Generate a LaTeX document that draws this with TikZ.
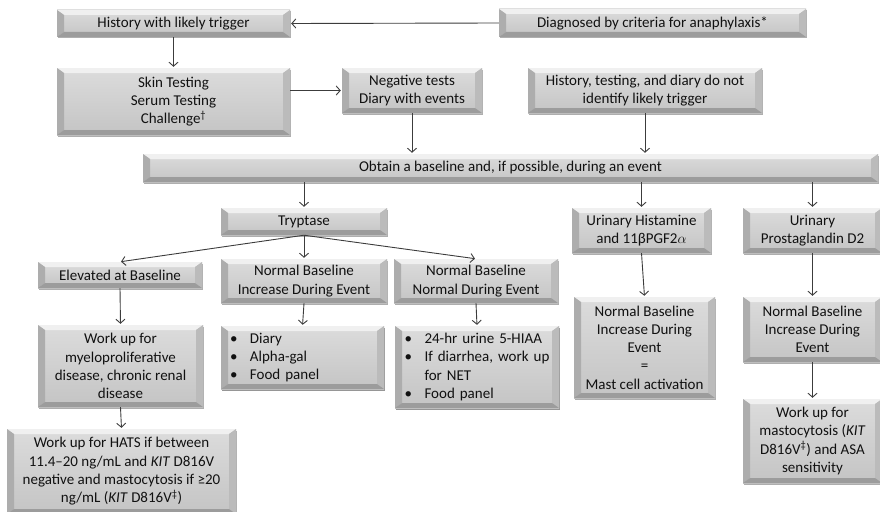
\documentclass[tikz,border=0pt]{standalone}
\usepackage{fontspec}
\setmainfont{Carlito}
\usetikzlibrary{arrows.meta,shadows}
\definecolor{facetop}{HTML}{DCDCDC}
\definecolor{facebot}{HTML}{C4C4C4}
\definecolor{bevT}{HTML}{F0F0F0}
\definecolor{bevL}{HTML}{ADADAD}
\definecolor{bevR}{HTML}{BBBBBB}
\definecolor{bevB}{HTML}{9C9C9C}
\definecolor{shadowc}{HTML}{8C8C8C}
\definecolor{txt}{HTML}{111111}
\definecolor{linec}{HTML}{3C3C3C}
\tikzset{
  bev/.style={top color=facetop, bottom color=facebot, align=center, inner sep=3pt,
    font=\fontsize{15}{18.3}\selectfont, text=txt,
    drop shadow={shadow xshift=1pt, shadow yshift=-1.5pt, fill=shadowc, opacity=0.7},
    path picture={
      \path (path picture bounding box.north west) coordinate (pnw)
            (path picture bounding box.north east) coordinate (pne)
            (path picture bounding box.south west) coordinate (psw)
            (path picture bounding box.south east) coordinate (pse);
      \fill[bevT] (pnw) -- (pne) -- ([shift={(-7pt,-5pt)}]pne) -- ([shift={(7pt,-5pt)}]pnw) -- cycle;
      \fill[bevL] (pnw) -- ([shift={(7pt,-5pt)}]pnw) -- ([shift={(7pt,5pt)}]psw) -- (psw) -- cycle;
      \fill[bevR] (pne) -- ([shift={(-7pt,-5pt)}]pne) -- ([shift={(-7pt,5pt)}]pse) -- (pse) -- cycle;
      \fill[bevB] (psw) -- ([shift={(7pt,5pt)}]psw) -- ([shift={(-7pt,5pt)}]pse) -- (pse) -- cycle;
    }},
  lst/.style={bev, align=left, inner xsep=9pt},
  arr/.style={draw=linec, line width=0.9pt, -{Straight Barb[length=4pt,width=9pt]}, shorten >=1pt},
}
\newcommand{\bx}[7][]{\node[bev,#1, minimum width={(#5-#3)*1pt}, minimum height={(#6-#4)*1pt}] (#2) at ({(#3+#5)/2},{(#4+#6)/2}) {#7};}
\newcommand{\bl}{\makebox[20pt][l]{\textbullet}}
\begin{document}
\begin{tikzpicture}[x=1pt,y=-1pt]
\useasboundingbox (0,0) rectangle (880,511);
\bx{hist}{57}{10}{290}{37}{History with likely trigger}
\bx{diag}{499}{9}{806}{37}{Diagnosed by criteria for anaphylaxis*}
\bx{skin}{57}{68}{290}{135}{Skin Testing\\Serum Testing\\Challenge\textsuperscript{†}}
\bx{neg}{342}{68}{482}{113}{Negative tests\\Diary with events}
\bx{htd}{528}{68}{762}{113}{History, testing, and diary do not\\identify likely trigger}
\bx{base}{143}{154}{878}{182}{Obtain a baseline and, if possible, during an event}
\bx{tryp}{221}{208}{387}{235}{Tryptase}
\bx{uhist}{572}{208}{711}{253}{Urinary Histamine\\and 11βPGF2$\alpha$}
\bx{upros}{743}{208}{882}{253}{Urinary\\Prostaglandin D2}
\bx{elev}{38}{262}{202}{288}{Elevated at Baseline}
\bx{nbi}{221}{259}{387}{303}{Normal Baseline\\Increase During Event}
\bx{nbn}{394}{259}{558}{303}{Normal Baseline\\Normal During Event}
\bx{work}{38}{325}{203}{407}{Work up for\\myeloproliferative\\disease, chronic renal\\disease}
\bx[lst, text width=145pt]{diary}{221}{326}{384}{389}{\bl Diary\\\bl Alpha-gal\\\bl Food panel}
\bx[lst, text width=145pt]{hiaa}{395}{326}{559}{408}{\bl 24-hr urine 5-HIAA\\\bl If diarrhea, work up\\\hspace*{20pt}for NET\\\bl Food panel}
\bx{hats}{7}{429}{236}{514}{Work up for HATS if between\\11.4–20 ng/mL and \textit{KIT} D816V\\negative and mastocytosis if ≥20\\ng/mL (\textit{KIT} D816V\textsuperscript{‡})}
\bx{nbm}{574}{297}{715}{398}{Normal Baseline\\Increase During\\Event\\=\\Mast cell activation}
\bx{nbp}{743}{297}{882}{362}{Normal Baseline\\Increase During\\Event}
\bx{mast}{743}{399}{882}{483}{Work up for\\mastocytosis (\textit{KIT}\\D816V\textsuperscript{‡}) and ASA\\sensitivity}

\draw[arr] (diag.west) -- (hist.east);
\draw[arr] (hist.south) -- (skin.north);
\draw[arr] (skin.east |- neg.west) -- (neg.west);
\draw[arr] (neg.south) -- (neg.south |- base.north);
\draw[arr] (htd.south) -- (htd.south |- base.north);
\draw[arr] (tryp.north |- base.south) -- (tryp.north);
\draw[arr] (uhist.north |- base.south) -- (uhist.north);
\draw[arr] (upros.north |- base.south) -- (upros.north);
\draw[arr] (tryp.south) -- (elev.north);
\draw[arr] (tryp.south) -- (nbi.north);
\draw[arr] (tryp.south) -- (nbn.north);
\draw[arr] (elev.south) -- (work.north);
\draw[arr] (nbi.south) -- (diary.north);
\draw[arr] (nbn.south) -- (hiaa.north);
\draw[arr] (work.south) -- (hats.north);
\draw[arr] (uhist.south) -- (nbm.north);
\draw[arr] (upros.south) -- (nbp.north);
\draw[arr] (nbp.south) -- (mast.north);
\end{tikzpicture}
\end{document}
